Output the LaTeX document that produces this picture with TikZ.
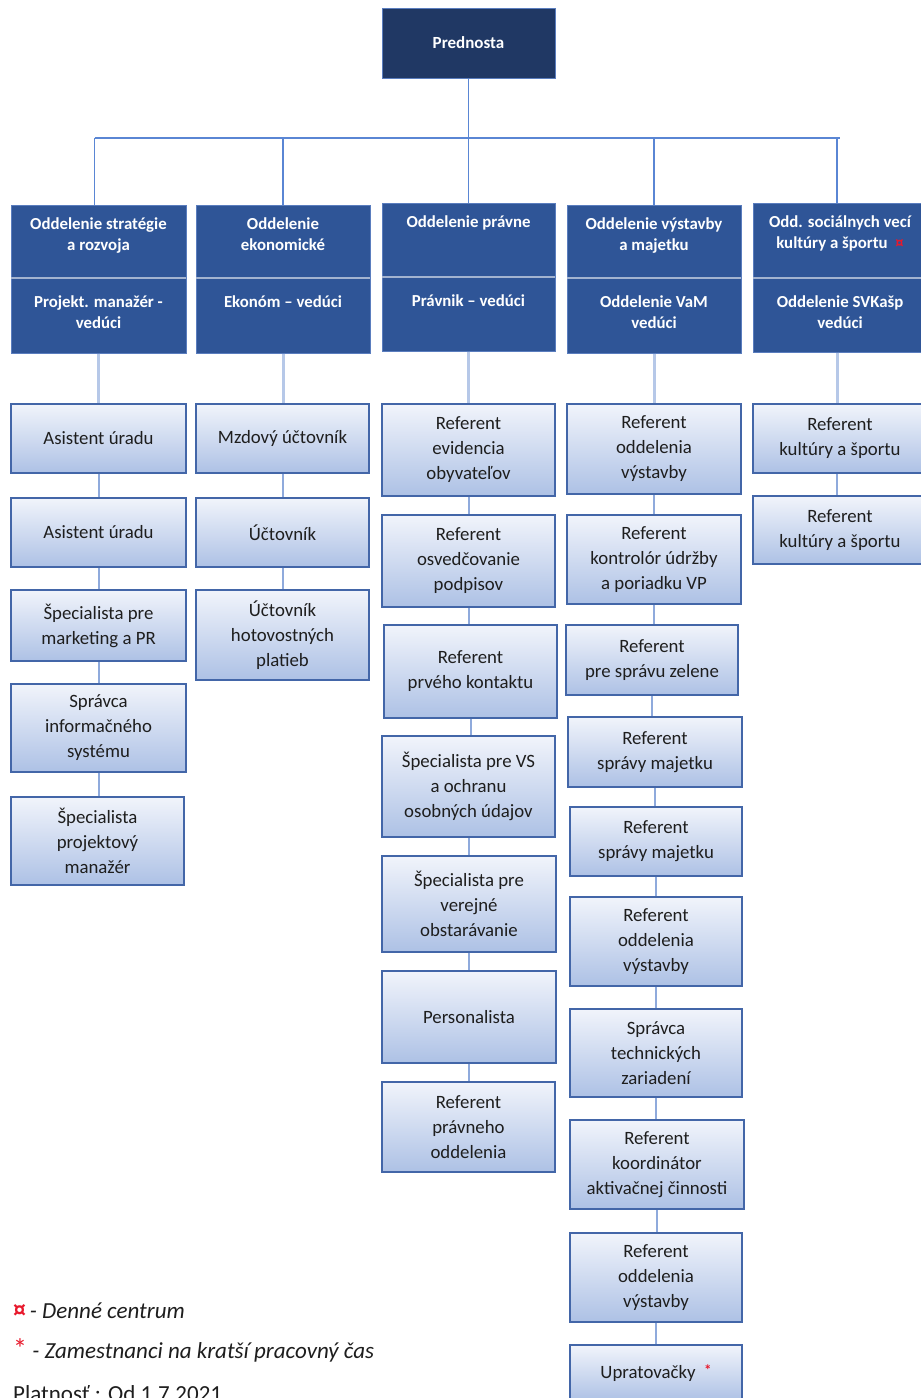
\documentclass[tikz,border=0pt]{standalone}
\usepackage{fontspec}
\setmainfont{Carlito}
\usetikzlibrary{calc}
\definecolor{hdr}{HTML}{2F5597}
\definecolor{hdrborder}{HTML}{5A7DBE}
\definecolor{predc}{HTML}{203864}
\definecolor{hdrline}{HTML}{A3B3D0}
\definecolor{cborder}{HTML}{4366A8}
\definecolor{ctop}{HTML}{F1F4FB}
\definecolor{cbot}{HTML}{ADC1E5}
\definecolor{toplink}{HTML}{5A86D4}
\definecolor{hlinkc}{HTML}{B6C8E8}
\definecolor{clinkc}{HTML}{8FAADC}
\definecolor{ctext}{HTML}{1E1E1E}
\definecolor{markc}{HTML}{E8192C}
\tikzset{
  cbox/.style={draw=cborder, line width=1.8pt, top color=ctop, bottom color=cbot,
    align=center, text=ctext, font=\fontsize{18.8}{25}\selectfont, inner sep=0pt},
  hbox/.style={draw=hdrborder, line width=1pt, fill=hdr, inner sep=0pt},
  predbox/.style={draw=hdrborder, line width=1pt, fill=predc, inner sep=0pt,
    text=white, font=\fontsize{17}{20}\selectfont\bfseries},
  htext/.style={text=white, font=\fontsize{16.8}{21}\selectfont\bfseries, align=center,
    inner sep=0pt, anchor=north},
  divline/.style={draw=hdrline, line width=1.2pt},
  toplinkst/.style={draw=toplink, line width=1.6pt},
  hlink/.style={draw=hlinkc, line width=3pt},
  clink/.style={draw=clinkc, line width=2pt},
  legend/.style={anchor=base west, inner sep=0pt, text=ctext, font=\fontsize{23}{27}\selectfont},
}
\newcommand\bx[6]{\node[cbox, minimum width={#4-#2}, minimum height={#5-#3}] (#1) at ({(#2+#4)/2},{(#3+#5)/2}) {#6};}
\newcommand\hd[8]{%
  \node[hbox, minimum width={#4-#2}, minimum height={#6-#3}] (#1) at ({(#2+#4)/2},{(#3+#6)/2}) {};
  \draw[divline] (#2,#5) -- (#4,#5);
  \node[htext] (#1t) at ({(#2+#4)/2},{#3+12.5}) {#7};
  \node[htext] (#1b) at ({(#2+#4)/2},{#5+17.5}) {#8};}
\begin{document}
\begin{tikzpicture}[x=1pt,y=-1pt]
\useasboundingbox (0,0) rectangle (921,1398);
\clip (0,0) rectangle (921,1398);
\fill[white] (0,0) rectangle (921,1398);

% top
\node[predbox, minimum width=173, minimum height=70] (pred) at (468.5,43) {Prednosta};

% headers
\hd{h1}{11}{205}{186}{278}{353}{Oddelenie stratégie\\a rozvoja}{Projekt. manažér -\\vedúci}
\hd{h2}{196}{205}{370}{278}{353}{Oddelenie\\ekonomické}{Ekonóm – vedúci}
\hd{h3}{382}{203}{555}{277}{351}{Oddelenie právne}{Právnik – vedúci}
\hd{h4}{567}{205}{741}{278}{353}{Oddelenie výstavby\\a majetku}{Oddelenie VaM\\vedúci}
\hd{h5}{753}{203}{927}{278}{352}{Odd. sociálnych vecí\\kultúry a športu \ \textcolor{markc}{¤}}{Oddelenie SVKašp\\vedúci}

% tree links
\coordinate (bar) at (0,138);
\draw[toplinkst] (pred.south) -- (pred.south |- bar);
\draw[toplinkst] ([xshift=-4pt]h1.north |- bar) -- (h5.north |- bar);
\draw[toplinkst] ([xshift=-4pt]h1.north |- bar) -- ([xshift=-4pt]h1.north);
\draw[toplinkst] (h2.north |- bar) -- (h2.north);
\draw[toplinkst] (h3.north |- bar) -- (h3.north);
\draw[toplinkst] (h4.north |- bar) -- (h4.north);
\draw[toplinkst] ([xshift=-3pt]h5.north |- bar) -- ([xshift=-3pt]h5.north);

% column 1
\bx{c11}{11}{404}{186}{473}{Asistent úradu}
\bx{c12}{11}{498}{186}{567}{Asistent úradu}
\bx{c13}{11}{590}{186}{661}{Špecialista pre\\marketing a PR}
\bx{c14}{11}{684}{186}{772}{Správca\\informačného\\systému}
\bx{c15}{11}{797}{184}{885}{Špecialista\\projektový\\manažér}

% column 2
\bx{c21}{196}{404}{369}{473}{Mzdový účtovník}
\bx{c22}{196}{498}{369}{567}{Účtovník}
\bx{c23}{196}{590}{369}{680}{Účtovník\\hotovostných\\platieb}

% column 3
\bx{c31}{382}{404}{555}{496}{Referent\\evidencia\\obyvateľov}
\bx{c32}{382}{515}{555}{607}{Referent\\osvedčovanie\\podpisov}
\bx{c33}{384}{625}{557}{718}{Referent\\prvého kontaktu}
\bx{c34}{382}{736}{555}{837}{Špecialista pre VS\\a ochranu\\osobných údajov}
\bx{c35}{382}{856}{556}{952}{Špecialista pre\\verejné\\obstarávanie}
\bx{c36}{382}{971}{556}{1063}{Personalista}
\bx{c37}{382}{1082}{555}{1172}{Referent\\právneho\\oddelenia}

% column 4
\bx{c41}{567}{404}{741}{494}{Referent\\oddelenia\\výstavby}
\bx{c42}{567}{515}{741}{604}{Referent\\kontrolór údržby\\a poriadku VP}
\bx{c43}{566}{625}{738}{695}{Referent\\pre správu zelene}
\bx{c44}{568}{717}{742}{787}{Referent\\správy majetku}
\bx{c45}{570}{807}{742}{876}{Referent\\správy majetku}
\bx{c46}{570}{897}{742}{986}{Referent\\oddelenia\\výstavby}
\bx{c47}{570}{1009}{742}{1097}{Správca\\technických\\zariadení}
\bx{c48}{570}{1120}{744}{1209}{Referent\\koordinátor\\aktivačnej činnosti}
\bx{c49}{570}{1233}{742}{1322}{Referent\\oddelenia\\výstavby}
\bx{c410}{570}{1345}{742}{1401}{Upratovačky \ \raisebox{3pt}{\textcolor{markc}{\fontsize{15}{15}\selectfont\bfseries *}}}

% column 5
\bx{c51}{753}{404}{927}{473}{Referent\\kultúry a športu}
\bx{c52}{753}{496}{927}{564}{Referent\\kultúry a športu}

% header to first child
\draw[hlink] (h1.south) -- (h1.south |- c11.north);
\draw[hlink] (h2.south) -- (h2.south |- c21.north);
\draw[hlink] (h3.south) -- (h3.south |- c31.north);
\draw[hlink] (h4.south) -- (h4.south |- c41.north);
\draw[hlink] ([xshift=-3pt]h5.south) -- ([xshift=-3pt]h5.south |- c51.north);

% chains
\foreach \a/\b in {c11/c12,c12/c13,c13/c14,c14/c15,
                   c21/c22,c22/c23,
                   c31/c32,c32/c33,c33/c34,c34/c35,c35/c36,c36/c37,
                   c41/c42,c42/c43,c43/c44,c44/c45,c45/c46,c46/c47,c47/c48,c48/c49,c49/c410}
  \draw[clink] (\a.south) -- (\a.south |- \b.north);
\draw[clink] ([xshift=-3pt]c51.south) -- ([xshift=-3pt]c51.south |- c52.north);

% legend
\node[legend] (l1) at (13,1318) {\textcolor{markc}{\textbf{\fontsize{26}{26}\selectfont ¤}}\,\textit{- Denné centrum}};
\node[legend] (l2) at (13,1358) {\textcolor{markc}{\fontsize{28}{28}\selectfont *}\ \textit{- Zamestnanci na kratší pracovný čas}};
\node[legend] (l3) at (13,1401) {Platnosť : Od 1.7.2021};
\end{tikzpicture}
\end{document}
